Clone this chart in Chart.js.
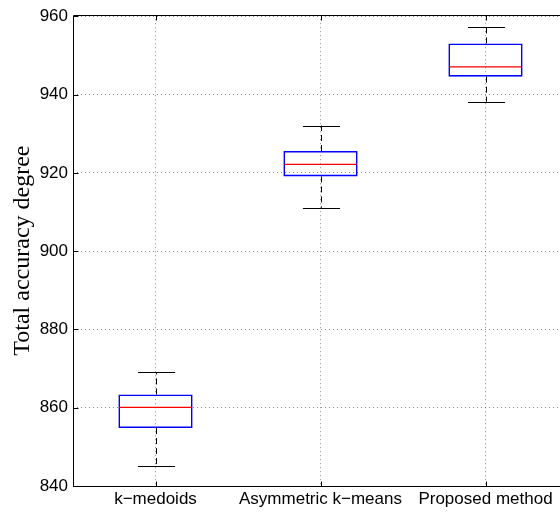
<!DOCTYPE html>
<html>
<head>
<meta charset="utf-8">
<script src="https://cdn.jsdelivr.net/npm/chart.js@4/dist/chart.umd.min.js"></script>
<style>
  html, body { margin: 0; padding: 0; overflow: hidden; background: #fff; }
  canvas { display: block; }
</style>
</head>
<body>
<canvas id="Chart" width="580" height="514" style="width:580px;height:514px"></canvas>
<script>
const categories = ['k\u2212medoids', 'Asymmetric k\u2212means', 'Proposed method'];
const whiskerLow = [845, 911.1, 938.2];
const quart1 = [854.8, 919.1, 944.6];
const medians = [860.1, 922.2, 947.1];
const quart3 = [863.4, 925.6, 953.1];
const whiskerHigh = [869.1, 932.1, 957.2];
const yTicks = [840, 860, 880, 900, 920, 940, 960];

// draws whiskers, caps, median and the MATLAB style frame with inward ticks
const boxExtras = {
    id: 'boxExtras',
    afterDatasetsDraw(chart) {
        const ctx = chart.ctx;
        const xs = chart.scales.x;
        const ys = chart.scales.y;
        const area = chart.chartArea;
        const meta = chart.getDatasetMeta(0);
        ctx.save();
        ctx.lineWidth = 1;

        // dashed whiskers
        ctx.strokeStyle = '#000';
        ctx.setLineDash([6, 4]);
        ctx.beginPath();
        categories.forEach((c, i) => {
            const x = Math.round(xs.getPixelForValue(i)) + 0.5;
            ctx.moveTo(x, ys.getPixelForValue(quart3[i]));
            ctx.lineTo(x, ys.getPixelForValue(whiskerHigh[i]));
            ctx.moveTo(x, ys.getPixelForValue(quart1[i]));
            ctx.lineTo(x, ys.getPixelForValue(whiskerLow[i]));
        });
        ctx.stroke();
        ctx.setLineDash([]);

        // caps
        ctx.beginPath();
        categories.forEach((c, i) => {
            const x = Math.round(xs.getPixelForValue(i)) + 0.5;
            const capW = meta.data[i].width / 2;
            const yh = Math.round(ys.getPixelForValue(whiskerHigh[i])) + 0.5;
            const yl = Math.round(ys.getPixelForValue(whiskerLow[i])) + 0.5;
            ctx.moveTo(x - capW / 2, yh);
            ctx.lineTo(x + capW / 2, yh);
            ctx.moveTo(x - capW / 2, yl);
            ctx.lineTo(x + capW / 2, yl);
        });
        ctx.stroke();

        // medians
        ctx.strokeStyle = '#ff0000';
        ctx.lineWidth = 1.3;
        categories.forEach((c, i) => {
            const x = xs.getPixelForValue(i);
            const w = meta.data[i].width;
            const yMed = ys.getPixelForValue(medians[i]);
            ctx.beginPath();
            ctx.moveTo(x - w / 2 + 1, yMed);
            ctx.lineTo(x + w / 2 - 1, yMed);
            ctx.stroke();
        });
        ctx.lineWidth = 1;

        // frame
        ctx.strokeStyle = '#000';
        const L = Math.round(area.left) + 0.5;
        const T = Math.round(area.top) + 0.5;
        const B = Math.round(area.bottom) + 0.5;
        ctx.beginPath();
        ctx.moveTo(L, T);
        ctx.lineTo(area.right, T);
        ctx.moveTo(L, T);
        ctx.lineTo(L, B);
        ctx.lineTo(area.right, B);
        ctx.stroke();

        // inward ticks
        ctx.beginPath();
        yTicks.forEach(v => {
            const y = Math.round(ys.getPixelForValue(v)) + 0.5;
            ctx.moveTo(L, y);
            ctx.lineTo(L + 5, y);
        });
        categories.forEach((c, i) => {
            const x = Math.round(xs.getPixelForValue(i)) + 0.5;
            ctx.moveTo(x, B);
            ctx.lineTo(x, B - 5);
            ctx.moveTo(x, T);
            ctx.lineTo(x, T + 5);
        });
        ctx.stroke();
        ctx.restore();
    }
};

const data = {
    labels: categories,
    datasets: [{
        label: 'box',
        data: quart1.map((q, i) => [q, quart3[i]]),
        backgroundColor: 'rgba(0,0,0,0)',
        borderColor: '#0000ff',
        borderWidth: 1.6,
        borderSkipped: false,
        barPercentage: 0.45,
        categoryPercentage: 1.0
    }]
};

const config = {
    type: 'bar',
    data,
    options: {
        responsive: false,
        animation: false,
        devicePixelRatio: 1,
        layout: { padding: { top: 14, right: 12, left: 0, bottom: 0 } },
        plugins: {
            legend: { display: false },
            tooltip: { enabled: false }
        },
        scales: {
            x: {
                offset: true,
                grid: {
                    offset: false,
                    color: 'rgba(0,0,0,0.45)',
                    drawTicks: false
                },
                border: { display: false, dash: [1, 3] },
                ticks: {
                    color: '#000',
                    padding: 3,
                    maxRotation: 0,
                    autoSkip: false,
                    font: { family: 'Liberation Sans, Arial, sans-serif', size: 17 }
                },
                afterFit(scale) { scale.height = 28; }
            },
            y: {
                min: 840,
                max: 960.3,
                afterBuildTicks(scale) { scale.ticks = yTicks.map(v => ({ value: v })); },
                grid: {
                    color: 'rgba(0,0,0,0.45)',
                    drawTicks: false
                },
                border: { display: false, dash: [1, 3] },
                ticks: {
                    color: '#000',
                    padding: 5,
                    font: { family: 'Liberation Sans, Arial, sans-serif', size: 17 }
                },
                title: {
                    display: true,
                    text: 'Total accuracy degree',
                    color: '#000',
                    padding: { top: 8, bottom: 0 },
                    font: { family: 'Liberation Serif, Times New Roman, serif', size: 24, weight: 'normal' }
                },
                afterFit(scale) { scale.width = 73; }
            }
        }
    },
    plugins: [boxExtras]
};

const myChart = new Chart(document.getElementById('Chart'), config);
</script>
</body>
</html>
